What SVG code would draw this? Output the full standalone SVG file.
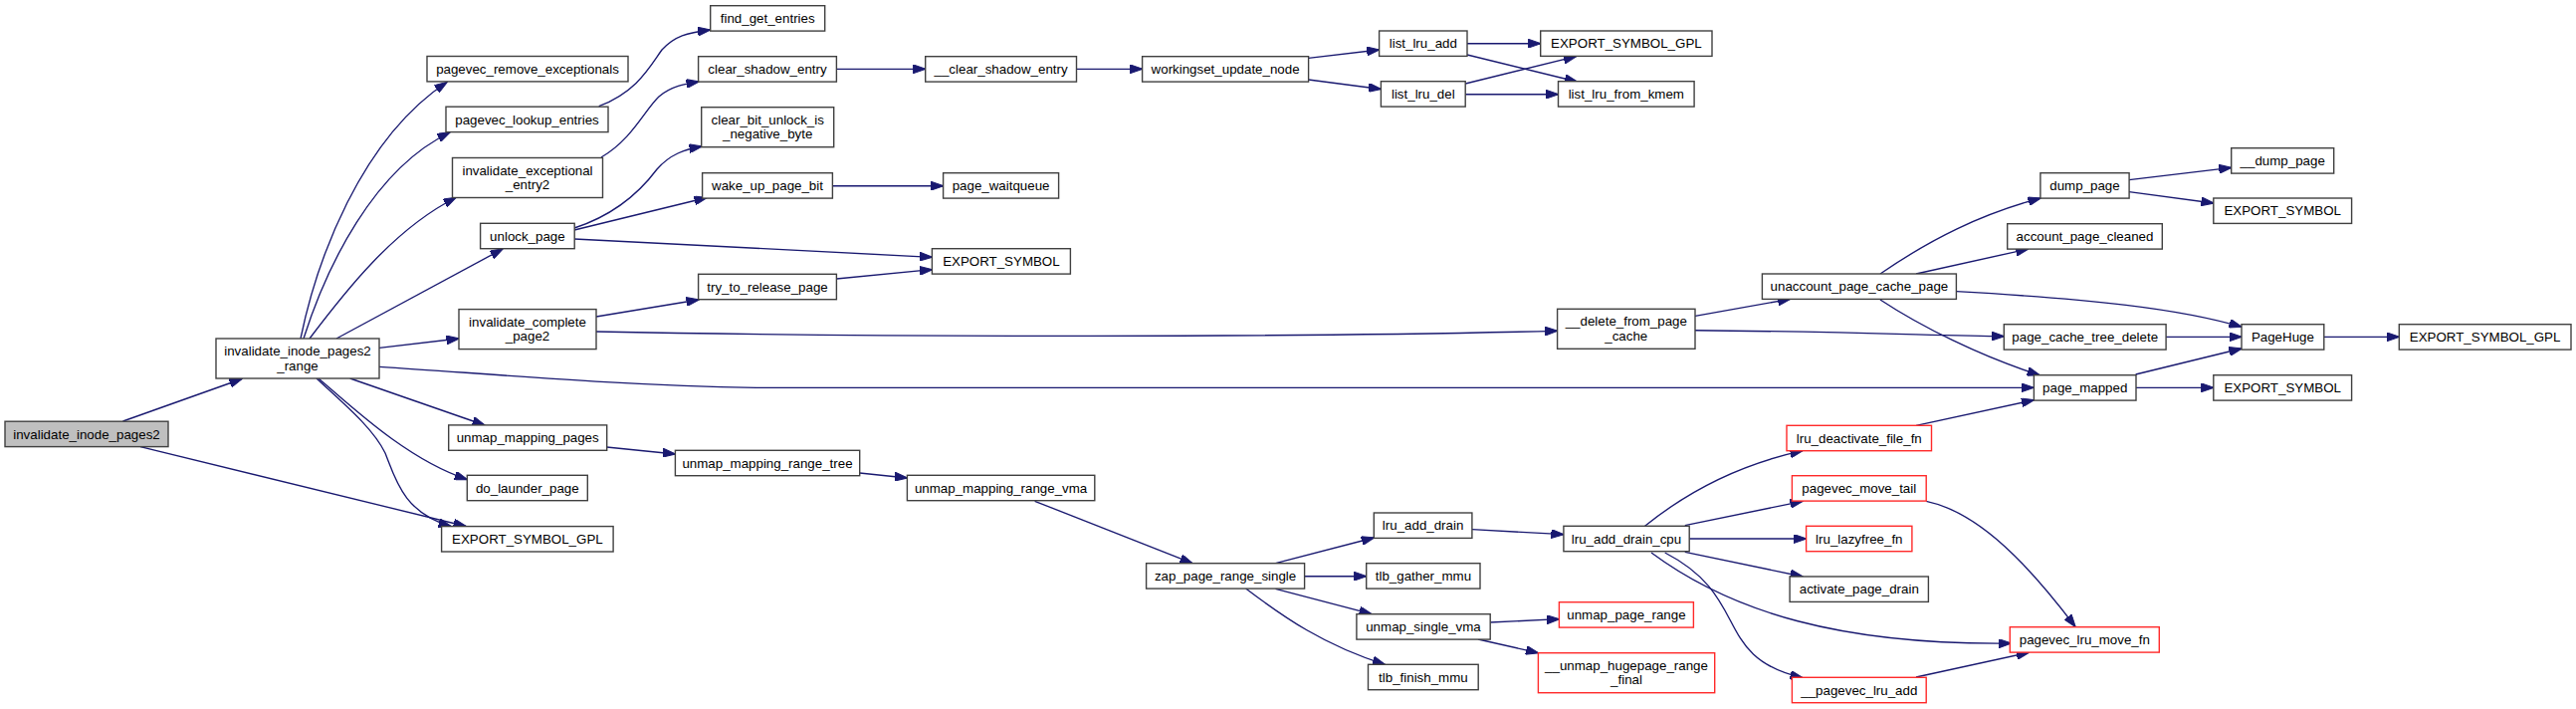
<svg xmlns="http://www.w3.org/2000/svg" width="2588" height="712" viewBox="0 0 2588 712">
<style>
.n rect{fill:#fff;stroke:#404040;stroke-width:1.4}
.n.red rect{stroke:#ff2a2a}
.n.root rect{fill:#bfbfbf}
.n text{font-family:"Liberation Sans",Arial,sans-serif;font-size:13.33px;fill:#000;text-anchor:middle}
.e path{fill:none;stroke:#191970;stroke-width:1.35;marker-end:url(#ah)}
</style>
<defs>
<marker id="ah" viewBox="0 0 13 9" refX="12.5" refY="4.5" markerWidth="13" markerHeight="9" markerUnits="userSpaceOnUse" orient="auto">
<path d="M0,0 L13,4.5 L0,9 z" fill="#191970" stroke="#191970" stroke-width="1"/>
</marker>
</defs>
<rect width="2588" height="712" fill="#fff"/>
<g id="edges" class="e">
<path d="M123.5,423 L243,380.5"/>
<path d="M141,448.6 L468,528.5"/>
<path d="M302,340 C318,262 362,140 449,82.5"/>
<path d="M305,340 C328,268 375,170 452,133"/>
<path d="M311,340 C345,295 395,230 458,198.5"/>
<path d="M338,340 L505,250"/>
<path d="M381,349.3 L461,340"/>
<path d="M381,368.3 C500,376 620,387 760,389.3 L2043,389.3"/>
<path d="M351.7,380 L487,427"/>
<path d="M320,380 C355,410 410,462 469.3,481.5"/>
<path d="M318,380 C345,405 375,430 387,455 C397,480 405,515 453,528.5"/>
<path d="M601.7,106.7 C640,92 652,68 665,50 C678,36 690,33 713.5,30"/>
<path d="M604,158 C635,140 648,110 662,97 C675,86 690,84 702,82"/>
<path d="M577,229 C620,215 645,190 660,170 C673,155 688,150 705,147"/>
<path d="M577,231 L710,198.5"/>
<path d="M577,240 L936.4,258.3"/>
<path d="M599,318 L702,301"/>
<path d="M599,333 C900,339 1300,339 1564.6,332.3"/>
<path d="M840.4,280 L936.4,270.7"/>
<path d="M840.4,69.3 L929.7,69.3"/>
<path d="M1081.5,69.3 L1147.6,69.3"/>
<path d="M836.4,186.7 L947.6,186.7"/>
<path d="M1314.5,58.3 L1385.6,50"/>
<path d="M1314.5,80 L1387.4,89.5"/>
<path d="M1474,43.7 L1547.7,43.7"/>
<path d="M1474,55 L1584.3,82"/>
<path d="M1472.2,84 L1583.4,56.7"/>
<path d="M1472.2,94.7 L1565.5,94.7"/>
<path d="M1703,317.3 L1798.6,300.3"/>
<path d="M1703,331.7 C1850,333 1950,337 2013.3,337.7"/>
<path d="M1889,275 C1940,240 1990,215 2050,199"/>
<path d="M1925,275 L2037.7,250"/>
<path d="M1965.5,292.7 C2100,300 2190,310 2252,328.3"/>
<path d="M1889,301 C1930,328 1990,358 2049,376.7"/>
<path d="M2139,180.7 L2241.7,168.3"/>
<path d="M2139,192.7 L2223.8,204"/>
<path d="M2176,338.3 L2252,338.3"/>
<path d="M2145.6,376 L2252,350"/>
<path d="M2146,389.3 L2223.8,389.3"/>
<path d="M2334.8,338.3 L2410.3,338.3"/>
<path d="M609.5,449 L678.4,456"/>
<path d="M863.7,475 L911.4,480"/>
<path d="M1039.6,503.3 L1198,565.7"/>
<path d="M1281.5,565.7 L1380.3,540"/>
<path d="M1310.5,578.7 L1372.7,578.7"/>
<path d="M1281.5,591.3 L1378,616.7"/>
<path d="M1251.6,591 C1290,620 1330,648 1391.4,667.3"/>
<path d="M1478.9,531.7 L1570.9,536.7"/>
<path d="M1652.6,528.3 C1690,498 1740,468 1811,452.7"/>
<path d="M1692.8,527.7 L1811,503.3"/>
<path d="M1697.2,541 L1814.6,541"/>
<path d="M1692.8,554.3 L1811,579"/>
<path d="M1659,555 C1740,615 1850,648 2020.7,646"/>
<path d="M1672.7,555 C1760,600 1720,660 1811,680.7"/>
<path d="M1497.2,625 L1566.4,621.7"/>
<path d="M1485,642 L1545.4,655.7"/>
<path d="M1925,427.3 L2043.4,401.7"/>
<path d="M1935.2,503.3 C1990,515 2040,570 2085,629.3"/>
<path d="M1925,680 L2038.3,655.3"/>
</g>
<g id="n_invalidate_inode_pages2" class="n root"><rect x="5" y="423.2" width="164" height="25.4"/><text x="87" y="440.5">invalidate_inode_pages2</text></g>
<g id="n_invalidate_inode_pages2_range" class="n"><rect x="217" y="340" width="164" height="40"/><text x="299" y="357">invalidate_inode_pages2</text><text x="299" y="371.5">_range</text></g>
<g id="n_pagevec_remove_exceptionals" class="n"><rect x="429" y="56.5" width="202" height="25.4"/><text x="530" y="73.8">pagevec_remove_exceptionals</text></g>
<g id="n_pagevec_lookup_entries" class="n"><rect x="448" y="107.2" width="163" height="25.4"/><text x="529.5" y="124.5">pagevec_lookup_entries</text></g>
<g id="n_invalidate_exceptional_entry2" class="n"><rect x="454.5" y="158.5" width="151" height="40"/><text x="530" y="175.5">invalidate_exceptional</text><text x="530" y="190">_entry2</text></g>
<g id="n_unlock_page" class="n"><rect x="482.6" y="224.3" width="94.6" height="25.4"/><text x="529.9" y="241.6">unlock_page</text></g>
<g id="n_invalidate_complete_page2" class="n"><rect x="461" y="310.6" width="138" height="40"/><text x="530" y="327.6">invalidate_complete</text><text x="530" y="342.1">_page2</text></g>
<g id="n_unmap_mapping_pages" class="n"><rect x="450.7" y="426.9" width="159" height="25.4"/><text x="530.2" y="444.2">unmap_mapping_pages</text></g>
<g id="n_do_launder_page" class="n"><rect x="469.3" y="477.3" width="121" height="25.4"/><text x="529.8" y="494.6">do_launder_page</text></g>
<g id="n_export_symbol_gpl_1" class="n"><rect x="443.6" y="528.6" width="172.5" height="25.4"/><text x="529.9" y="545.9">EXPORT_SYMBOL_GPL</text></g>
<g id="n_find_get_entries" class="n"><rect x="713.7" y="5.7" width="115" height="25.4"/><text x="771.2" y="23">find_get_entries</text></g>
<g id="n_clear_shadow_entry" class="n"><rect x="701.6" y="56.7" width="138.8" height="25.4"/><text x="771" y="74">clear_shadow_entry</text></g>
<g id="n_clear_bit_unlock_is_negative_byte" class="n"><rect x="704.7" y="107.7" width="133" height="40"/><text x="771.2" y="124.7">clear_bit_unlock_is</text><text x="771.2" y="139.2">_negative_byte</text></g>
<g id="n_wake_up_page_bit" class="n"><rect x="705.6" y="173.7" width="130.8" height="25.4"/><text x="771" y="191">wake_up_page_bit</text></g>
<g id="n_try_to_release_page" class="n"><rect x="701.6" y="275.3" width="138.8" height="25.4"/><text x="771" y="292.6">try_to_release_page</text></g>
<g id="n_unmap_mapping_range_tree" class="n"><rect x="678.4" y="452.3" width="185.3" height="25.4"/><text x="771" y="469.6">unmap_mapping_range_tree</text></g>
<g id="n___clear_shadow_entry" class="n"><rect x="929.7" y="56.7" width="151.8" height="25.4"/><text x="1005.6" y="74">__clear_shadow_entry</text></g>
<g id="n_page_waitqueue" class="n"><rect x="947.6" y="173.7" width="116" height="25.4"/><text x="1005.6" y="191">page_waitqueue</text></g>
<g id="n_export_symbol_1" class="n"><rect x="936.4" y="249.7" width="139" height="25.4"/><text x="1005.9" y="267">EXPORT_SYMBOL</text></g>
<g id="n_unmap_mapping_range_vma" class="n"><rect x="911.4" y="477.3" width="188.4" height="25.4"/><text x="1005.6" y="494.6">unmap_mapping_range_vma</text></g>
<g id="n_workingset_update_node" class="n"><rect x="1147.6" y="56.7" width="167" height="25.4"/><text x="1231.1" y="74">workingset_update_node</text></g>
<g id="n_zap_page_range_single" class="n"><rect x="1151.6" y="565.7" width="159" height="25.4"/><text x="1231.1" y="583">zap_page_range_single</text></g>
<g id="n_list_lru_add" class="n"><rect x="1385.6" y="31" width="88.4" height="25.4"/><text x="1429.8" y="48.3">list_lru_add</text></g>
<g id="n_list_lru_del" class="n"><rect x="1387.4" y="81.7" width="84.8" height="25.4"/><text x="1429.8" y="99">list_lru_del</text></g>
<g id="n_lru_add_drain" class="n"><rect x="1380.3" y="515" width="98.6" height="25.4"/><text x="1429.6" y="532.3">lru_add_drain</text></g>
<g id="n_tlb_gather_mmu" class="n"><rect x="1372.7" y="565.7" width="114.3" height="25.4"/><text x="1429.9" y="583">tlb_gather_mmu</text></g>
<g id="n_unmap_single_vma" class="n"><rect x="1362.9" y="616.7" width="134.3" height="25.4"/><text x="1430" y="634">unmap_single_vma</text></g>
<g id="n_tlb_finish_mmu" class="n"><rect x="1374.5" y="667.3" width="110.7" height="25.4"/><text x="1429.9" y="684.6">tlb_finish_mmu</text></g>
<g id="n_export_symbol_gpl_2" class="n"><rect x="1547.7" y="31" width="172.3" height="25.4"/><text x="1633.9" y="48.3">EXPORT_SYMBOL_GPL</text></g>
<g id="n_list_lru_from_kmem" class="n"><rect x="1565.5" y="81.7" width="136.6" height="25.4"/><text x="1633.8" y="99">list_lru_from_kmem</text></g>
<g id="n___delete_from_page_cache" class="n"><rect x="1564.6" y="310.3" width="138.4" height="40"/><text x="1633.8" y="327.3">__delete_from_page</text><text x="1633.8" y="341.8">_cache</text></g>
<g id="n_lru_add_drain_cpu" class="n"><rect x="1570.9" y="528.3" width="126.3" height="25.4"/><text x="1634" y="545.6">lru_add_drain_cpu</text></g>
<g id="n_unmap_page_range" class="n red"><rect x="1566.4" y="604.7" width="135" height="25.4"/><text x="1633.9" y="622">unmap_page_range</text></g>
<g id="n___unmap_hugepage_range_final" class="n red"><rect x="1545.4" y="655.7" width="177.3" height="40"/><text x="1634" y="672.7">__unmap_hugepage_range</text><text x="1634" y="687.2">_final</text></g>
<g id="n_unaccount_page_cache_page" class="n"><rect x="1770.4" y="275" width="195" height="25.4"/><text x="1867.9" y="292.3">unaccount_page_cache_page</text></g>
<g id="n_lru_deactivate_file_fn" class="n red"><rect x="1795" y="427.3" width="145.5" height="25.4"/><text x="1867.8" y="444.6">lru_deactivate_file_fn</text></g>
<g id="n_pagevec_move_tail" class="n red"><rect x="1800.4" y="477.7" width="134.8" height="25.4"/><text x="1867.8" y="495">pagevec_move_tail</text></g>
<g id="n_lru_lazyfree_fn" class="n red"><rect x="1814.6" y="528.3" width="106.3" height="25.4"/><text x="1867.8" y="545.6">lru_lazyfree_fn</text></g>
<g id="n_activate_page_drain" class="n"><rect x="1798.1" y="579" width="139.3" height="25.4"/><text x="1867.8" y="596.3">activate_page_drain</text></g>
<g id="n___pagevec_lru_add" class="n red"><rect x="1800.4" y="680.3" width="134.8" height="25.4"/><text x="1867.8" y="697.6">__pagevec_lru_add</text></g>
<g id="n_dump_page" class="n"><rect x="2049.9" y="173.7" width="89.2" height="25.4"/><text x="2094.5" y="191">dump_page</text></g>
<g id="n_account_page_cleaned" class="n"><rect x="2016.7" y="224.7" width="155.6" height="25.4"/><text x="2094.5" y="242">account_page_cleaned</text></g>
<g id="n_page_cache_tree_delete" class="n"><rect x="2013.3" y="325.7" width="162.8" height="25.4"/><text x="2094.7" y="343">page_cache_tree_delete</text></g>
<g id="n_page_mapped" class="n"><rect x="2043.4" y="376.7" width="102.6" height="25.4"/><text x="2094.7" y="394">page_mapped</text></g>
<g id="n_pagevec_lru_move_fn" class="n red"><rect x="2019.3" y="629.7" width="150" height="25.4"/><text x="2094.3" y="647">pagevec_lru_move_fn</text></g>
<g id="n___dump_page" class="n"><rect x="2241.7" y="148.7" width="103" height="25.4"/><text x="2293.2" y="166">__dump_page</text></g>
<g id="n_export_symbol_2" class="n"><rect x="2223.8" y="199" width="138.8" height="25.4"/><text x="2293.2" y="216.3">EXPORT_SYMBOL</text></g>
<g id="n_PageHuge" class="n"><rect x="2252" y="325.7" width="82.8" height="25.4"/><text x="2293.4" y="343">PageHuge</text></g>
<g id="n_export_symbol_3" class="n"><rect x="2223.8" y="376.7" width="138.8" height="25.4"/><text x="2293.2" y="394">EXPORT_SYMBOL</text></g>
<g id="n_export_symbol_gpl_3" class="n"><rect x="2410.3" y="325.7" width="172.7" height="25.4"/><text x="2496.6" y="343">EXPORT_SYMBOL_GPL</text></g>
</svg>
